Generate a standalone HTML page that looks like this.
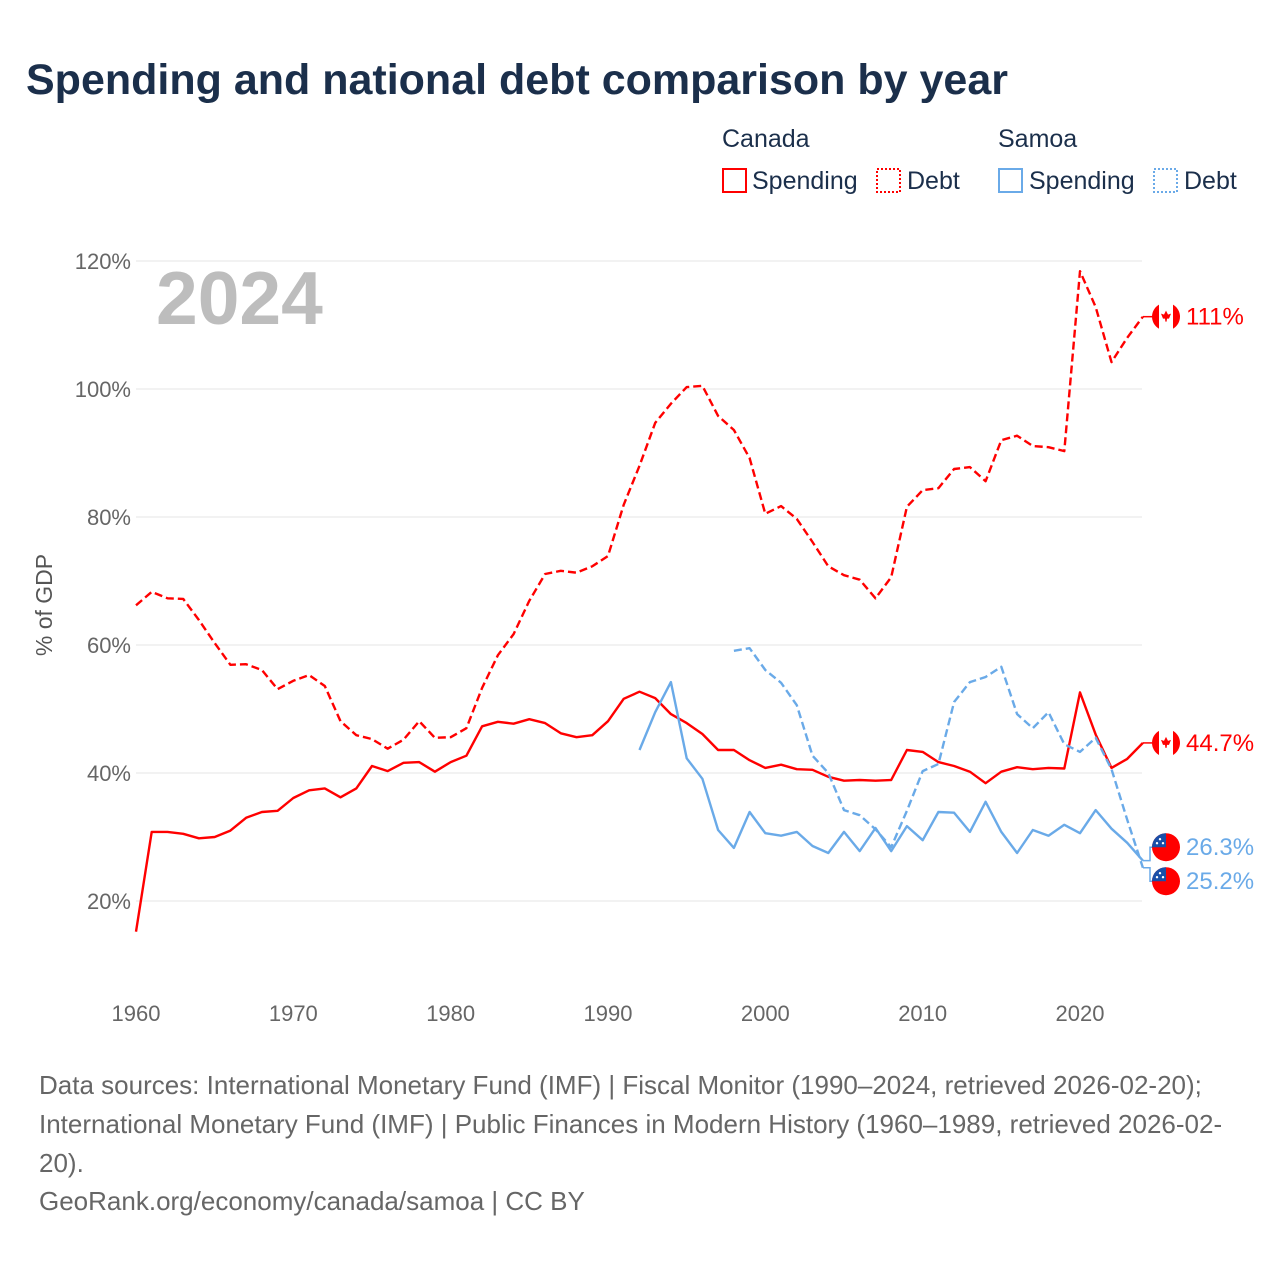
<!DOCTYPE html>
<html><head><meta charset="utf-8"><style>
body{margin:0;background:#fff;font-family:"Liberation Sans",sans-serif;}
svg text{font-family:"Liberation Sans",sans-serif;}
</style></head><body>
<svg width="1280" height="1280" viewBox="0 0 1280 1280">
<text x="26" y="94" font-size="43" font-weight="bold" fill="#1b2f4b">Spending and national debt comparison by year</text>
<g font-size="25" fill="#1b2f4b">
<text x="722" y="147" fill="#1b2f4b">Canada</text>
<text x="998" y="147" fill="#1b2f4b">Samoa</text>
<g><rect x="723" y="169" width="23" height="23" fill="none" stroke="#f00" stroke-width="2"/><text x="752" y="189" fill="#1b2f4b">Spending</text></g>
<g><rect x="877" y="169" width="23" height="23" fill="none" stroke="#f00" stroke-width="2" stroke-dasharray="2,2"/><text x="907" y="189" fill="#1b2f4b">Debt</text></g>
<g><rect x="999" y="169" width="23" height="23" fill="none" stroke="#6aaae8" stroke-width="2"/><text x="1029" y="189" fill="#1b2f4b">Spending</text></g>
<g><rect x="1154" y="169" width="23" height="23" fill="none" stroke="#6aaae8" stroke-width="2" stroke-dasharray="2,2"/><text x="1184" y="189" fill="#1b2f4b">Debt</text></g>
</g>
<text x="156" y="324" font-size="75" font-weight="bold" fill="#bdbdbd">2024</text>
<text transform="translate(52,605) rotate(-90)" text-anchor="middle" font-size="23" fill="#555">% of GDP</text>
<g id="grid"></g><g id="series"></g><g id="labels"></g>
<g font-size="26" fill="#666">
<text x="39" y="1094">Data sources: International Monetary Fund (IMF) | Fiscal Monitor (1990–2024, retrieved 2026-02-20);</text>
<text x="39" y="1133">International Monetary Fund (IMF) | Public Finances in Modern History (1960–1989, retrieved 2026-02-</text>
<text x="39" y="1172">20).</text>
<text x="39" y="1210">GeoRank.org/economy/canada/samoa | CC BY</text>
</g>
</svg>
<script>
const yTicks=[20,40,60,80,100,120];
const xTicks=[1960,1970,1980,1990,2000,2010,2020];
const canSpendStart=1960;
const canSpend=[15.2,30.8,30.8,30.5,29.8,30.0,31,33,33.9,34.1,36.1,37.3,37.6,36.2,37.6,41.1,40.3,41.6,41.7,40.2,41.7,42.7,47.3,48,47.7,48.4,47.8,46.2,45.6,45.9,48.1,51.6,52.7,51.7,49.2,47.8,46.1,43.6,43.6,42,40.8,41.3,40.6,40.5,39.4,38.8,38.9,38.8,38.9,43.6,43.3,41.7,41.1,40.2,38.4,40.2,40.9,40.6,40.8,40.7,52.6,46,40.8,42.2,44.7];
const canDebtStart=1960;
const canDebt=[66.2,68.3,67.3,67.2,63.9,60.3,56.9,57,56.1,53.1,54.4,55.3,53.6,48.1,45.9,45.3,43.8,45.2,48.1,45.5,45.6,47,53.3,58.4,61.7,66.9,71.1,71.6,71.3,72.3,73.9,81.9,88,94.7,97.7,100.3,100.5,95.8,93.6,89.2,80.5,81.7,79.7,76.1,72.3,70.9,70.2,67.3,70.6,81.6,84.2,84.5,87.5,87.8,85.6,92,92.7,91.1,90.9,90.3,118.4,112.8,104.2,108,111.3];
const samSpendStart=1992;
const samSpend=[43.6,49.5,54.2,42.3,39.1,31.1,28.3,33.9,30.6,30.2,30.8,28.6,27.5,30.8,27.8,31.4,27.8,31.7,29.5,33.9,33.8,30.8,35.5,30.8,27.5,31.1,30.2,31.9,30.6,34.2,31.3,29.1,26.3];
const samDebtStart=1998;
const samDebt=[59.1,59.5,56.1,54.1,50.6,42.7,40,34.2,33.4,31.2,28.4,34.1,40.3,41.4,51.1,54.2,55,56.6,49.2,47,49.5,44.5,43.3,45.5,40.6,32.7,25.2];
const endLabels=["111%","44.7%","26.3%","25.2%"];
const NS="http://www.w3.org/2000/svg";
const X=yr=>136+(yr-1960)*(944/60);
const Y=v=>901-(v-20)*6.4;
function mk(t,a,p){const e=document.createElementNS(NS,t);for(const k in a)e.setAttribute(k,a[k]);p.appendChild(e);return e;}
const grid=document.getElementById('grid');
yTicks.forEach(v=>{
 const l=mk('line',{x1:136,x2:1142,y1:Y(v),y2:Y(v),stroke:'#e6e6e6','stroke-width':1},grid);
 
 
 const t=mk('text',{x:131,y:Y(v)+8,'text-anchor':'end','font-size':22,fill:'#666'},grid);
 t.textContent=v+'%';
 
 
});
xTicks.forEach(yr=>{
 const t=mk('text',{x:X(yr),y:1021,'text-anchor':'middle','font-size':22,fill:'#666'},grid);
 t.textContent=yr;
 
 
});
const ser=document.getElementById('series');
function line(arr,start,color,dash,name){
 const d=arr.map((v,i)=>(i?'L':'M')+X(start+i).toFixed(1)+','+Y(v).toFixed(1)).join('');
 const p=mk('path',{d:d,fill:'none',stroke:color,'stroke-width':2.4,'stroke-linejoin':'round'},ser);
 if(dash)p.setAttribute('stroke-dasharray','8,4');
 
 
 return Y(arr[arr.length-1]);
}
const e1=line(canDebt,canDebtStart,'#f00',true,'canada-debt-line');
const e2=line(canSpend,canSpendStart,'#f00',false,'canada-spending-line');
const e3=line(samSpend,samSpendStart,'#6aaae8',false,'samoa-spending-line');
const e4=line(samDebt,samDebtStart,'#6aaae8',true,'samoa-debt-line');
const lab=document.getElementById('labels');
let ly=[e1,e2,e3,e4];
if(ly[3]-ly[2]<34){const m=(ly[2]+ly[3])/2;ly[2]=m-17;ly[3]=m+17;}
const ends=[e1,e2,e3,e4];
const cols=['#f00','#f00','#6aaae8','#6aaae8'];
const flags=['canada','canada','samoa','samoa'];
for(let i=0;i<4;i++){
 const c=mk('path',{d:`M1143,${ends[i]}H1150V${ly[i]}H1155`,fill:'none',stroke:cols[i],'stroke-width':1.5},lab);
 
 
 const g=mk('g',{},lab);
 
 
 const cx=1166,cy=ly[i];
 if(flags[i]=='canada'){
  mk('circle',{cx:cx,cy:cy,r:14,fill:'#fff'},g);
  mk('path',{d:`M${cx-14},${cy} A14,14 0 0 1 ${cx-7},${cy-12.1} V${cy+12.1} A14,14 0 0 1 ${cx-14},${cy}Z`,fill:'#f00'},g);
  mk('path',{d:`M${cx+14},${cy} A14,14 0 0 0 ${cx+7},${cy-12.1} V${cy+12.1} A14,14 0 0 0 ${cx+14},${cy}Z`,fill:'#f00'},g);
  mk('path',{d:`M${cx},${cy-6}L${cx+2},${cy-2}L${cx+5},${cy-3}L${cx+3},${cy+2}L${cx+1},${cy+2}L${cx+0.6},${cy+5}H${cx-0.6}L${cx-1},${cy+2}L${cx-3},${cy+2}L${cx-5},${cy-3}L${cx-2},${cy-2}Z`,fill:'#f00'},g);
 }else{
  mk('circle',{cx:cx,cy:cy,r:14,fill:'#f00'},g);
  mk('path',{d:`M${cx-14},${cy} A14,14 0 0 1 ${cx},${cy-14} V${cy}Z`,fill:'#1a4fa8'},g);
  mk('circle',{cx:cx-6,cy:cy-8,r:1.2,fill:'#fff'},g);
  mk('circle',{cx:cx-9,cy:cy-4,r:1.2,fill:'#fff'},g);
  mk('circle',{cx:cx-3,cy:cy-4,r:1.2,fill:'#fff'},g);
 }
 const t=mk('text',{x:1186,y:ly[i]+8,'font-size':24,fill:cols[i]},lab);
 t.textContent=endLabels[i];
 
 
}
</script>
</body></html>
